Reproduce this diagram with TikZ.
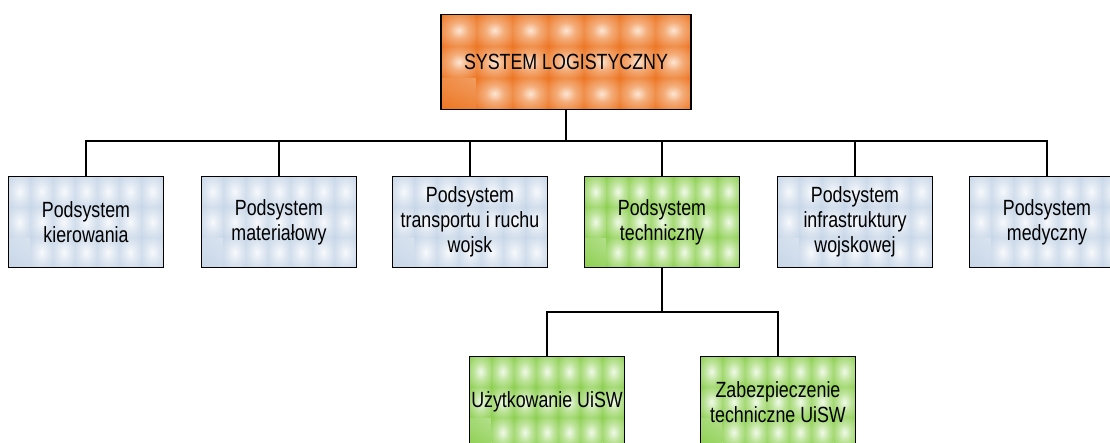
\documentclass[tikz,border=0pt]{standalone}
\usepackage{fontspec}
\setmainfont{Liberation Sans}[FakeStretch=0.81]
\usetikzlibrary{calc}
\definecolor{orangebase}{HTML}{EC7420}
\definecolor{orangelight}{HTML}{FCE6D4}
\definecolor{bluebase}{HTML}{BFD0E4}
\definecolor{bluelight}{HTML}{F7F9FC}
\definecolor{greenbase}{HTML}{82CA40}
\definecolor{greenlight}{HTML}{F0FAE8}
\pgfdeclareradialshading{orangetile}{\pgfpoint{0bp}{0bp}}{color(0bp)=(orangelight);
  color(13bp)=(orangebase!50!orangelight); color(36bp)=(orangebase); color(75bp)=(orangebase)}
\pgfdeclareradialshading{bluetile}{\pgfpoint{0bp}{0bp}}{color(0bp)=(bluelight);
  color(16bp)=(bluebase!45!bluelight); color(42bp)=(bluebase); color(75bp)=(bluebase)}
\pgfdeclareradialshading{greentile}{\pgfpoint{0bp}{0bp}}{color(0bp)=(greenlight);
  color(15bp)=(greenbase!45!greenlight); color(40bp)=(greenbase); color(75bp)=(greenbase)}
\tikzset{
  tiles/.style={draw=black,line width=1.5pt,align=center,
    font=\fontsize{22}{25}\selectfont,inner sep=0pt,
    path picture={
      \foreach \i in {0,...,6}{\foreach \j in {0,...,2}{
        \shade[shading=#1]
          let \p1=(path picture bounding box.south west),
              \p2=(path picture bounding box.north east) in
          ({\x1+(\x2-\x1)*\i/7},{\y1+(\y2-\y1)*\j/3}) rectangle
          ({\x1+(\x2-\x1)*(\i+1)/7},{\y1+(\y2-\y1)*(\j+1)/3});
      }}
    }},
  mainbox/.style={tiles=orangetile,minimum width=250pt,minimum height=95pt},
  subbox/.style={tiles=bluetile,minimum width=155pt,minimum height=91pt},
  techbox/.style={tiles=greentile,minimum width=155pt,minimum height=91pt},
  link/.style={draw=black,line width=1.3pt}
}
\begin{document}
\begin{tikzpicture}[x=1pt,y=-1pt]
\clip (0,0) rectangle (1110,443);
\node[mainbox] (top) at (566,62) {SYSTEM LOGISTYCZNY};
\node[subbox] (b1) at (86,222) {Podsystem\\kierowania};
\node[subbox] (b2) at (279,222) {Podsystem\\materiałowy};
\node[subbox] (b3) at (470,222) {Podsystem\\transportu i ruchu\\wojsk};
\node[techbox] (b4) at (662,222) {Podsystem\\techniczny};
\node[subbox] (b5) at (855,222) {Podsystem\\infrastruktury\\wojskowej};
\node[subbox] (b6) at (1047,222) {Podsystem\\medyczny};
\node[techbox] (c1) at (547,402) {Użytkowanie UiSW};
\node[techbox] (c2) at (778,402) {Zabezpieczenie\\techniczne UiSW};
\coordinate (bus) at (566,141);
\coordinate (split) at (662,312);
\foreach \n in {b1,b2,b3,b4,b5,b6}
  \draw[link] (top.south) |- (\n.north |- bus) -- (\n.north);
\foreach \n in {c1,c2}
  \draw[link] (b4.south) |- (\n.north |- split) -- (\n.north);
\end{tikzpicture}
\end{document}
